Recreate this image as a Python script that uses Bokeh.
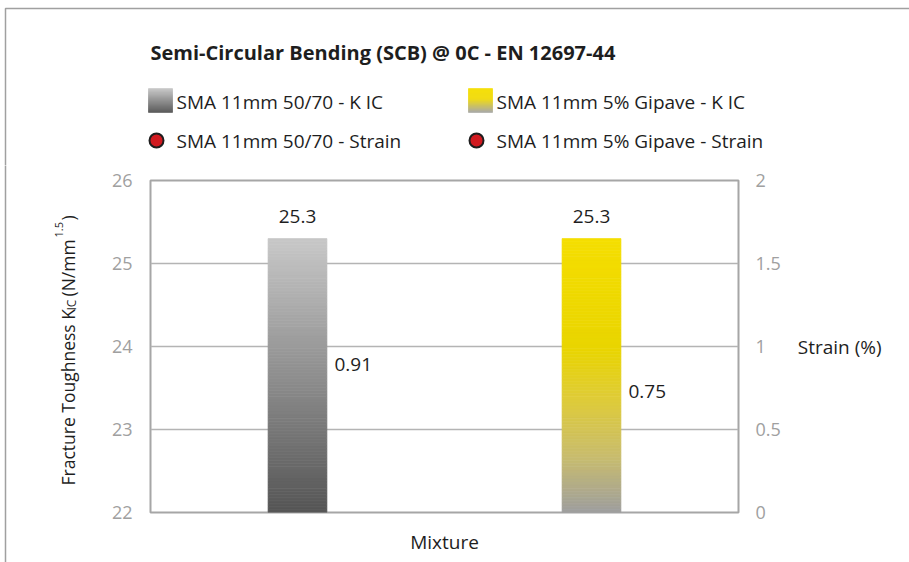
import math
from bokeh.plotting import figure
from bokeh.layouts import column, row
from bokeh.models import Range1d, LinearAxis, FixedTicker
from bokeh.core.properties import value
from bokeh.embed import file_html
from bokeh.resources import INLINE

# ---------------- data ----------------
MIXTURES = ["SMA 11mm 50/70", "SMA 11mm 5% Gipave"]
K_IC = [25.3, 25.3]
K_IC_LABELS = ["25.3", "25.3"]
STRAIN = [0.91, 0.75]
STRAIN_LABELS = ["0.91", "0.75"]
LEFT_TICKS = [22, 23, 24, 25, 26]
RIGHT_TICKS = [0, 0.5, 1, 1.5, 2]
RIGHT_TICK_LABELS = ["0", "0.5", "1", "1.5", "2"]
LEGEND_KIC = ["SMA 11mm 50/70 -  K IC", "SMA 11mm 5% Gipave - K IC"]
LEGEND_STRAIN = ["SMA 11mm 50/70 - Strain", "SMA 11mm 5% Gipave - Strain"]
TITLE = "Semi-Circular Bending (SCB) @ 0C - EN 12697-44"
Y_TITLE = ["Fracture Toughness K", "IC", "(N/mm", "1.5", ")"]
X_TITLE = "Mixture"
Y2_TITLE = "Strain (%)"

# ---------------- styles ----------------
FONT = "Open Sans"
GRAY_STOPS = [(0.0, (200, 200, 200)), (1.0, (85, 85, 85))]
YELLOW_STOPS = [(0.0, (245, 222, 0)), (0.4, (233, 213, 0)), (0.6, (222, 203, 60)),
                (0.8, (200, 188, 110)), (1.0, (158, 158, 158))]
LEG_YELLOW_STOPS = [(0.0, (245, 222, 0)), (0.45, (240, 218, 10)), (1.0, (165, 165, 165))]
BAR_STOPS = [GRAY_STOPS, YELLOW_STOPS]
LEG_STOPS = [GRAY_STOPS, LEG_YELLOW_STOPS]
TEXT = "#1e1e1e"
TICK_GRAY = "#a0a0a0"
BORDER = "#a0a0a0"

W, H = 909, 562
HEAD_H = 165          # header strip (title + legend)
LEFT_W = 100          # strip holding the rotated y-axis title
FL, FR, FT, FB = 150, 738, 180, 512   # plot frame on the page
Y0, Y1 = LEFT_TICKS[0], LEFT_TICKS[-1]
X0, X1 = 0, len(MIXTURES)


def lerp_color(stops, t):
    for (t0, c0), (t1, c1) in zip(stops[:-1], stops[1:]):
        if t <= t1:
            f = 0 if t1 == t0 else (t - t0) / (t1 - t0)
            c = [round(a + (b - a) * f) for a, b in zip(c0, c1)]
            return "#%02x%02x%02x" % tuple(c)
    return "#%02x%02x%02x" % stops[-1][1]


def blank(width, height, x_range, y_range):
    f = figure(width=width, height=height, x_range=x_range, y_range=y_range,
               output_backend="svg", toolbar_location=None, title=None,
               x_axis_location=None, y_axis_location=None, min_border=0,
               frame_align=False)
    f.grid.visible = False
    f.outline_line_color = None
    f.background_fill_color = "white"
    f.border_fill_color = "white"
    return f


# ================= header: title + legend =================
hd = blank(W, HEAD_H, Range1d(0, W), Range1d(HEAD_H, 0))
hd.line(x=[5, 5, W], y=[HEAD_H + 2, 8, 8], line_color=BORDER, line_width=1.5)
hd.text(x=[150], y=[52], text=[TITLE], text_font=value(FONT), text_font_size="20px",
        text_font_style="bold", text_color=TEXT, text_align="left", text_baseline="middle")

LEG_COL_X = [148, 468]
for k in range(2):
    x0 = LEG_COL_X[k]
    nsl = 24
    tops = [88 + j for j in range(nsl)]
    bots = [89 + j for j in range(nsl)]
    cols = [lerp_color(LEG_STOPS[k], (j + 0.5) / nsl) for j in range(nsl)]
    hd.quad(left=[x0] * nsl, right=[x0 + 24] * nsl, top=tops, bottom=bots,
            fill_color=cols, line_color=cols, line_width=0.6)
    hd.scatter(x=[x0 + 8], y=[140], size=14, marker="circle", fill_color="#d11a20",
               line_color="#1e1e1e", line_width=2)
    hd.text(x=[x0 + 28, x0 + 28], y=[101, 140], text=[LEGEND_KIC[k], LEGEND_STRAIN[k]],
            text_font=value(FONT), text_font_size="19px", text_color=TEXT,
            text_align="left", text_baseline="middle")

# ================= left strip: y-axis title =================
lf = blank(LEFT_W, H - HEAD_H, Range1d(0, LEFT_W), Range1d(H, HEAD_H))
lf.line(x=[5, 5], y=[HEAD_H - 2, H], line_color=BORDER, line_width=1.5)
YT_PARTS = [  # (text, baseline x, start y, size) in page pixels
    (Y_TITLE[0], 67, 485, "17.5px"),
    (Y_TITLE[1], 71, 310, "12px"),
    (Y_TITLE[2], 67, 296, "17.5px"),
    (Y_TITLE[3], 58, 237, "11px"),
    (Y_TITLE[4], 67, 220, "17.5px"),
]
for t, bx, sy, fs in YT_PARTS:
    lf.text(x=[bx], y=[sy], text=[t], angle=math.pi / 2, text_font=value(FONT),
            text_font_size=fs, text_color=TEXT, text_align="left",
            text_baseline="alphabetic")

# ================= main chart =================
p = figure(width=W - LEFT_W, height=H - HEAD_H, x_range=Range1d(X0, X1),
           y_range=Range1d(Y0, Y1), output_backend="svg", toolbar_location=None,
           title=None, min_border_left=FL - LEFT_W, min_border_right=W - FR,
           min_border_top=FT - HEAD_H, min_border_bottom=H - FB, frame_align=False)
p.background_fill_color = "white"
p.border_fill_color = "white"
p.outline_line_color = "#a6a6a6"
p.outline_line_width = 2

p.xgrid.visible = False
p.ygrid.ticker = FixedTicker(ticks=LEFT_TICKS)
p.ygrid.grid_line_color = "#b4b4b4"
p.ygrid.grid_line_width = 1.5

ya = p.yaxis[0]
ya.ticker = FixedTicker(ticks=LEFT_TICKS)
ya.axis_line_color = None
ya.major_tick_line_color = None
ya.minor_tick_line_color = None
ya.major_tick_out = 0
ya.major_tick_in = 0
ya.major_label_standoff = 18
ya.major_label_text_font = FONT
ya.major_label_text_font_size = "18px"
ya.major_label_text_color = TICK_GRAY

xa = p.xaxis[0]
xa.ticker = FixedTicker(ticks=[])
xa.axis_line_color = None
xa.major_tick_line_color = None
xa.minor_tick_line_color = None
xa.axis_label = X_TITLE
xa.axis_label_text_font = FONT
xa.axis_label_text_font_size = "19px"
xa.axis_label_text_font_style = "normal"
xa.axis_label_text_color = TEXT
xa.axis_label_standoff = 16

p.extra_y_ranges = {"strain": Range1d(RIGHT_TICKS[0], RIGHT_TICKS[-1])}
ra = LinearAxis(y_range_name="strain", ticker=FixedTicker(ticks=RIGHT_TICKS),
                major_label_overrides=dict(zip(RIGHT_TICKS, RIGHT_TICK_LABELS)))
ra.axis_line_color = None
ra.major_tick_line_color = None
ra.minor_tick_line_color = None
ra.major_tick_out = 0
ra.major_tick_in = 0
ra.major_label_standoff = 17
ra.major_label_text_font = FONT
ra.major_label_text_font_size = "18px"
ra.major_label_text_color = TICK_GRAY
ra.axis_label = Y2_TITLE
ra.axis_label_orientation = "horizontal"
ra.axis_label_text_font = FONT
ra.axis_label_text_font_size = "19px"
ra.axis_label_text_font_style = "normal"
ra.axis_label_text_color = TEXT
ra.axis_label_standoff = 14
p.add_layout(ra, "right")

# gradient bars (each bar drawn as stacked colour slices)
BAR_W = 60 / ((FR - FL) / (X1 - X0))
N = 90
for i, (v, stops) in enumerate(zip(K_IC, BAR_STOPS)):
    xc = i + 0.5
    tops = [v - (v - Y0) * j / N for j in range(N)]
    bots = [v - (v - Y0) * (j + 1) / N for j in range(N)]
    cols = [lerp_color(stops, (j + 0.5) / N) for j in range(N)]
    p.vbar(x=[xc] * N, width=BAR_W - 0.004, top=tops, bottom=bots,
           fill_color=cols, line_color=cols, line_width=0.7)

p.text(x=[i + 0.5 for i in range(len(K_IC))], y=K_IC, text=K_IC_LABELS,
       text_align="center", text_baseline="middle", y_offset=-22,
       text_font=value(FONT), text_font_size="19px", text_color=TEXT)
p.text(x=[i + 0.5 for i in range(len(STRAIN))], y=STRAIN, text=STRAIN_LABELS,
       y_range_name="strain", x_offset=37, y_offset=3,
       text_align="left", text_baseline="middle",
       text_font=value(FONT), text_font_size="19px", text_color=TEXT)

layout = column(hd, row(lf, p, spacing=0), spacing=0)
open("out.html", "w").write(file_html(layout, INLINE))
